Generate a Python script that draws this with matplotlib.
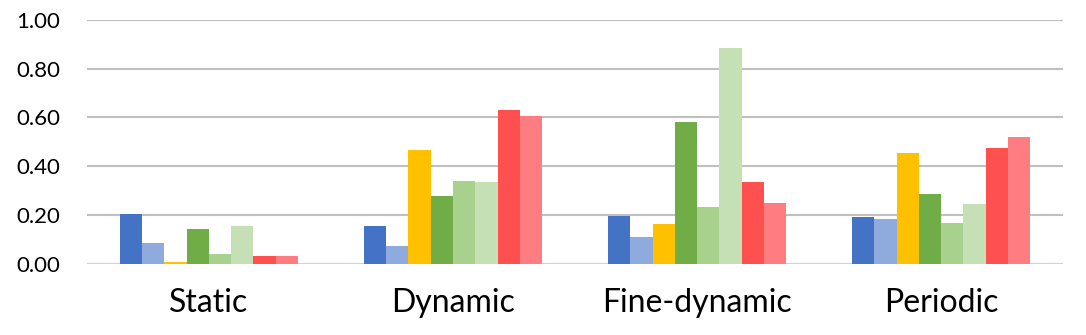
import numpy as np
import matplotlib.pyplot as plt

categories = ["Static", "Dynamic", "Fine-dynamic", "Periodic"]
s1 = [0.205, 0.156, 0.197, 0.193]
s2 = [0.086, 0.074, 0.111, 0.184]
s3 = [0.008, 0.467, 0.164, 0.455]
s4 = [0.143, 0.279, 0.582, 0.287]
s5 = [0.041, 0.340, 0.234, 0.168]
s6 = [0.156, 0.336, 0.885, 0.246]
s7 = [0.033, 0.631, 0.336, 0.475]
s8 = [0.033, 0.607, 0.250, 0.520]
series = [s1, s2, s3, s4, s5, s6, s7, s8]
colors = ["#4472C4", "#8FAADC", "#FFC000", "#70AD47",
          "#A9D18E", "#C5E0B4", "#FF5050", "#FF7C80"]

plt.rcParams['font.family'] = ['Lato', 'DejaVu Sans']

fig = plt.figure(figsize=(10.86, 3.35), dpi=100)
ax = fig.add_axes([0.080, 0.212, 0.899, 0.729])

x = np.arange(len(categories))
w = 0.73 / len(series)
for i, (vals, c) in enumerate(zip(series, colors)):
    ax.bar(x + (i - 3.5) * w, vals, width=w, color=c, zorder=3)

ax.set_xlim(-0.5, len(categories) - 0.5)
ax.set_ylim(0, 1.0)
ax.set_yticks(np.arange(0, 1.01, 0.2))
ax.set_yticklabels([f"{v:.2f}" for v in np.arange(0, 1.01, 0.2)], fontsize=16)
ax.set_xticks(x)
ax.set_xticklabels(categories, fontsize=23)
ax.tick_params(axis='y', length=0, pad=19)
ax.tick_params(axis='x', length=0, pad=17)
for s in ax.spines.values():
    s.set_visible(False)
ax.grid(axis='y', color='#BFBFBF', linewidth=1.5, zorder=0)
ax.axhline(0, color='#D9D9D9', linewidth=1.8, zorder=2)

fig.savefig('out.png', dpi=100)
